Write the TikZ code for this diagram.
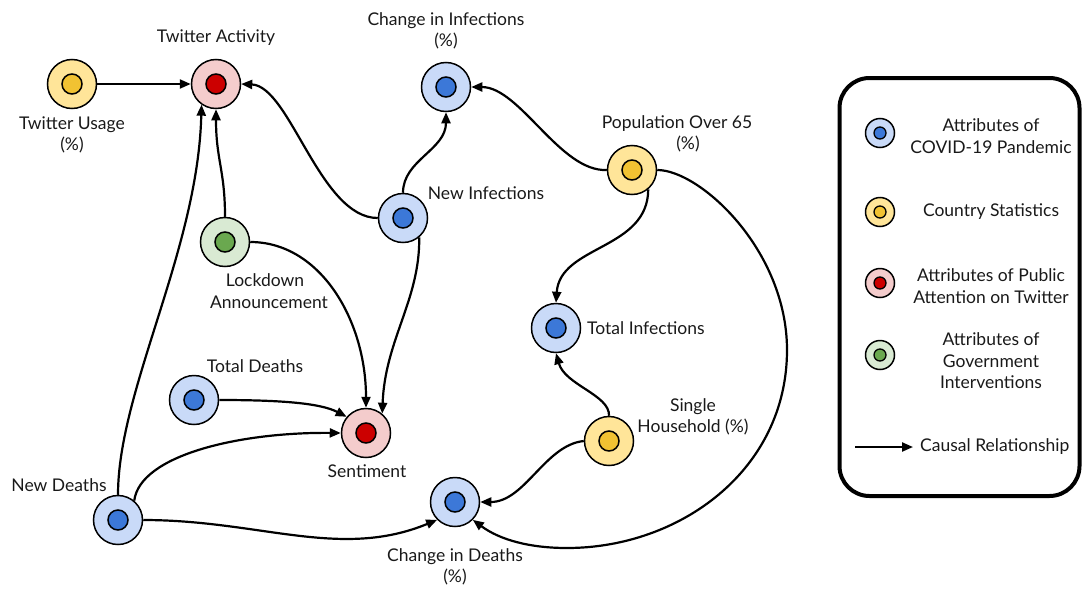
\documentclass[tikz,border=0pt]{standalone}
\usepackage{fontspec}
\setmainfont{Lato}
\usetikzlibrary{arrows.meta}
\definecolor{bOut}{HTML}{C9DAF8}
\definecolor{bIn}{HTML}{3C78D8}
\definecolor{yOut}{HTML}{FFE599}
\definecolor{yIn}{HTML}{F1C232}
\definecolor{rOut}{HTML}{F4CCCC}
\definecolor{rIn}{HTML}{CC0000}
\definecolor{gOut}{HTML}{D9EAD3}
\definecolor{gIn}{HTML}{6AA84F}
\tikzset{
  var/.style 2 args={circle, draw=black, line width=1.5pt, fill=#1, minimum size=49pt, inner sep=0pt,
    path picture={\draw[line width=1.5pt, fill=#2] (path picture bounding box.center) circle[radius=10pt];}},
  legvar/.style 2 args={circle, draw=black, line width=1.5pt, fill=#1, minimum size=29pt, inner sep=0pt,
    path picture={\draw[line width=1.3pt, fill=#2] (path picture bounding box.center) circle[radius=6pt];}},
  lbl/.style={font=\fontsize{17.5}{21.5}\selectfont, align=center, inner sep=0pt, text=black!90},
  cause/.style={line width=2.2pt, -{Triangle[length=11pt,width=9pt]}},
}
\begin{document}
\begin{tikzpicture}[x=1pt,y=-1pt]
\useasboundingbox (0,0) rectangle (1083,589);

% variables
\node[var={yOut}{yIn}] (tu) at (72,84) {};
\node[var={rOut}{rIn}] (ta) at (216,84) {};
\node[var={bOut}{bIn}] (ci) at (446,87) {};
\node[var={yOut}{yIn}] (pop) at (632,170) {};
\node[var={bOut}{bIn}] (ni) at (403,218) {};
\node[var={gOut}{gIn}] (ld) at (225,242) {};
\node[var={bOut}{bIn}] (ti) at (556,328) {};
\node[var={bOut}{bIn}] (td) at (194,400) {};
\node[var={rOut}{rIn}] (sent) at (366,433) {};
\node[var={yOut}{yIn}] (sh) at (609,441) {};
\node[var={bOut}{bIn}] (nd) at (118,520) {};
\node[var={bOut}{bIn}] (cd) at (455,502) {};

% labels
\node[lbl] (tuL) at (72,135) {Twitter Usage\\(\%)};
\node[lbl] (taL) at (216,38) {Twitter Activity};
\node[lbl] (ciL) at (446,31) {Change in Infections\\(\%)};
\node[lbl] (popL) at (677,134) {Population Over 65\\\hspace*{22pt}(\%)};
\node[lbl] (niL) at (486,193) {New Infections};
\node[lbl] (ldL) at (269,291) {\hspace*{-8pt}Lockdown\\Announcement};
\node[lbl,anchor=west] (tiL) at (587,328) {Total Infections};
\node[lbl] (tdL) at (255,366) {Total Deaths};
\node[lbl] (sentL) at (367,471) {Sentiment};
\node[lbl] (shL) at (693,417) {Single\\Household (\%)};
\node[lbl] (ndL) at (59,485) {New Deaths};
\node[lbl] (cdL) at (455,567) {Change in Deaths\\(\%)};

% edges
\draw[cause] (tu) -- (ta);
\draw[cause] (nd.north) .. controls (118,390) and (198,250) .. (ta.235);
\draw[cause] (ld.north) .. controls (225,170) and (216,160) .. (ta.south);
\draw[cause] (ni.west) .. controls (320,218) and (290,86) .. (ta.east);
\draw[cause] (ni.north) .. controls (403,160) and (446,150) .. (ci.south);
\draw[cause] (pop.west) .. controls (560,172) and (520,87) .. (ci.east);
\draw[cause] (pop.-50) .. controls (648,250) and (560,245) .. (ti.north);
\draw[cause] (pop.east) .. controls (700,170) and (787,250) .. (787,350)
   .. controls (787,470) and (680,548) .. (567,548)
   .. controls (530,548) and (500,540) .. (cd.-45);
\draw[cause] (sh.north) .. controls (610,395) and (565,385) .. (ti.south);
\draw[cause] (sh.west) .. controls (545,445) and (525,502) .. (cd.east);
\draw[cause] (nd.east) .. controls (260,520) and (340,560) .. (cd.225);
\draw[cause] (nd.50) .. controls (140,455) and (240,432) .. (sent.west);
\draw[cause] (td.east) .. controls (280,400) and (320,403) .. (sent.140);
\draw[cause] (ld.east) .. controls (320,242) and (366,320) .. (sent.north);
\draw[cause] (ni.-50) .. controls (420,300) and (385,340) .. (sent.50);

% legend
\node[draw=black, line width=4pt, rounded corners=30pt, minimum width=240pt, minimum height=418pt, inner sep=0pt] (leg) at (959.5,287) {};
\node[legvar={bOut}{bIn}] (l1) at (880,133) {};
\node[legvar={yOut}{yIn}] (l2) at (880,212) {};
\node[legvar={rOut}{rIn}] (l3) at (880,283) {};
\node[legvar={gOut}{gIn}] (l4) at (880,355) {};
\node[lbl] (l1t) at (991,136) {Attributes of\\COVID-19 Pandemic};
\node[lbl] (l2t) at (991,212) {Country Statistics};
\node[lbl] (l3t) at (991,286) {Attributes of Public\\Attention on Twitter};
\node[lbl] (l4t) at (991,361) {Attributes of\\Government\\Interventions};
\coordinate (la1) at (855,447);
\coordinate (la2) at (913,447);
\draw[cause] (la1) -- (la2);
\node[lbl,anchor=west] (l5t) at (920,447) {Causal Relationship};
\end{tikzpicture}
\end{document}
